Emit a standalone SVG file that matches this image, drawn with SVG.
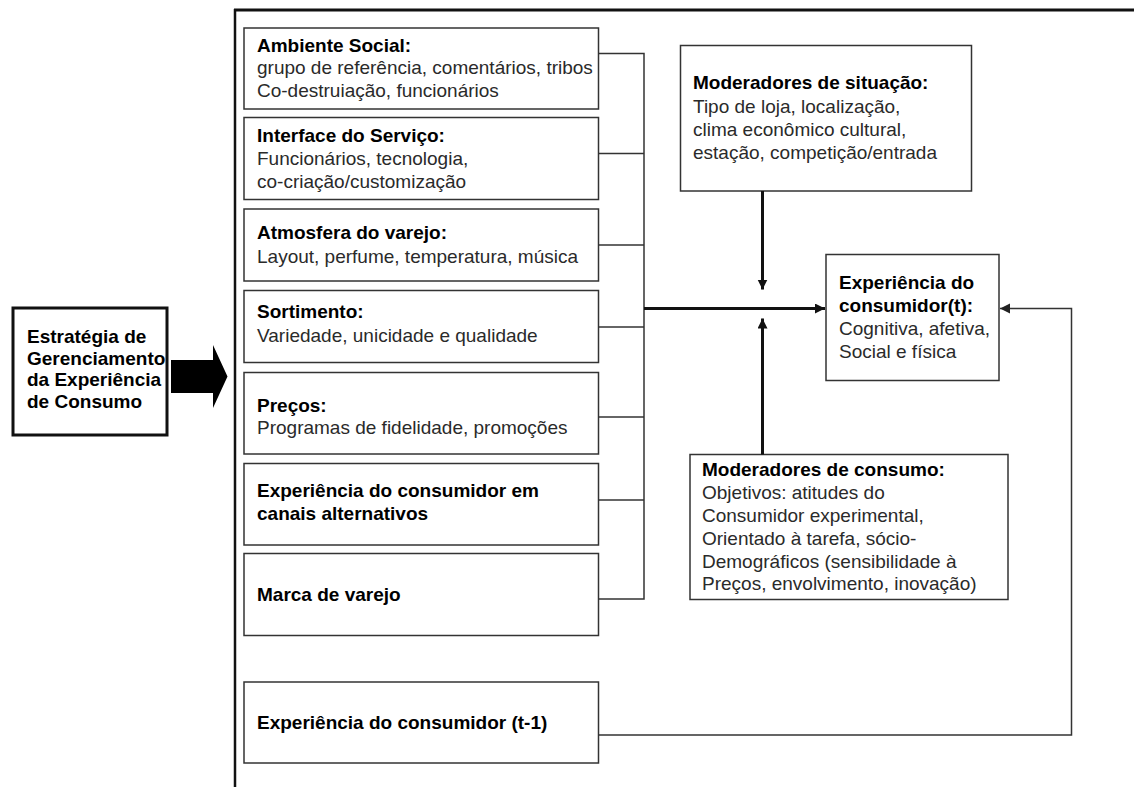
<svg xmlns="http://www.w3.org/2000/svg" width="1134" height="787" viewBox="0 0 1134 787">
<defs>
<style>
.box{fill:#fff;stroke:#333;stroke-width:1.5}
.t{font-family:"Liberation Sans",Arial,sans-serif;font-size:19px;font-weight:bold;fill:#000}
.b{font-family:"Liberation Sans",Arial,sans-serif;font-size:19px;fill:#2a2a2a}
.thin{fill:none;stroke:#333;stroke-width:1.5}
.thick{fill:none;stroke:#111;stroke-width:3}
</style>
<marker id="ah" markerUnits="userSpaceOnUse" markerWidth="12" markerHeight="12" refX="10" refY="5" orient="auto">
<path d="M0,0 L10,5 L0,10 Z" fill="#111"/>
</marker>
<marker id="ahs" markerUnits="userSpaceOnUse" markerWidth="12" markerHeight="12" refX="10" refY="5" orient="auto">
<path d="M0,0 L10,5 L0,10 Z" fill="#222"/>
</marker>
</defs>
<rect width="1134" height="787" fill="#fff"/>

<g id="frame">
<line x1="234" y1="10" x2="1134" y2="10" stroke="#111" stroke-width="3"/>
<line x1="235" y1="9" x2="235" y2="787" stroke="#111" stroke-width="2.5"/>
</g>

<g id="estrategia">
<rect x="13" y="308" width="154" height="127" fill="#fff" stroke="#111" stroke-width="3"/>
<text class="t" x="27" y="343">Estratégia de</text>
<text class="t" x="27" y="364.5">Gerenciamento</text>
<text class="t" x="27" y="386">da Experiência</text>
<text class="t" x="27" y="408">de Consumo</text>
</g>

<g id="block-arrow">
<polygon points="171,360 213,360 213,345 227.5,376.5 213,408 213,393 171,393" fill="#000"/>
</g>

<g id="ambiente">
<rect class="box" x="244" y="28" width="354.5" height="81"/>
<text class="t" x="257" y="51.5">Ambiente Social:</text>
<text class="b" x="257" y="74">grupo de referência, comentários, tribos</text>
<text class="b" x="257" y="96.5">Co-destruiação, funcionários</text>
</g>

<g id="interface">
<rect class="box" x="244" y="117.5" width="354.5" height="82"/>
<text class="t" x="257" y="141.5">Interface do Serviço:</text>
<text class="b" x="257" y="164.5">Funcionários, tecnologia,</text>
<text class="b" x="257" y="187.5">co-criação/customização</text>
</g>

<g id="atmosfera">
<rect class="box" x="244" y="209" width="354.5" height="72"/>
<text class="t" x="257" y="239">Atmosfera do varejo:</text>
<text class="b" x="257" y="263">Layout, perfume, temperatura, música</text>
</g>

<g id="sortimento">
<rect class="box" x="244" y="290.5" width="354.5" height="72"/>
<text class="t" x="257" y="318">Sortimento:</text>
<text class="b" x="257" y="341.5">Variedade, unicidade e qualidade</text>
</g>

<g id="precos">
<rect class="box" x="244" y="372.5" width="354.5" height="81.5"/>
<text class="t" x="257" y="411.5">Preços:</text>
<text class="b" x="257" y="433.5">Programas de fidelidade, promoções</text>
</g>

<g id="canais">
<rect class="box" x="244" y="463.5" width="354.5" height="81.5"/>
<text class="t" x="257" y="496.5">Experiência do consumidor em</text>
<text class="t" x="257" y="519.5">canais alternativos</text>
</g>

<g id="marca">
<rect class="box" x="244" y="553.5" width="354.5" height="82"/>
<text class="t" x="257" y="600.5">Marca de varejo</text>
</g>

<g id="anterior">
<rect class="box" x="244" y="682" width="354.5" height="81"/>
<text class="t" x="257" y="729">Experiência do consumidor (t-1)</text>
</g>

<g id="situacao">
<rect class="box" x="680.5" y="45.5" width="291" height="145.5"/>
<text class="t" x="693" y="89">Moderadores de situação:</text>
<text class="b" x="693" y="112.5">Tipo de loja, localização,</text>
<text class="b" x="693" y="135.5">clima econômico cultural,</text>
<text class="b" x="693" y="158.5">estação, competição/entrada</text>
</g>

<g id="experiencia-t">
<rect class="box" x="826" y="254.5" width="173" height="126"/>
<text class="t" x="839" y="289">Experiência do</text>
<text class="t" x="839" y="311.5">consumidor(t):</text>
<text class="b" x="839" y="335">Cognitiva, afetiva,</text>
<text class="b" x="839" y="358">Social e física</text>
</g>

<g id="consumo">
<rect class="box" x="690" y="454.5" width="318" height="145"/>
<text class="t" x="702" y="476">Moderadores de consumo:</text>
<text class="b" x="702" y="499">Objetivos: atitudes do</text>
<text class="b" x="702" y="522">Consumidor experimental,</text>
<text class="b" x="702" y="544.5">Orientado à tarefa, sócio-</text>
<text class="b" x="702" y="567.5">Demográficos (sensibilidade à</text>
<text class="b" x="702" y="590">Preços, envolvimento, inovação)</text>
</g>

<g id="connectors">
<path class="thin" d="M598.5,53.5 H644 V599 H598.5"/>
<line class="thin" x1="598.5" y1="153.5" x2="644" y2="153.5"/>
<line class="thin" x1="598.5" y1="245" x2="644" y2="245"/>
<line class="thin" x1="598.5" y1="327" x2="644" y2="327"/>
<line class="thin" x1="598.5" y1="417" x2="644" y2="417"/>
<line class="thin" x1="598.5" y1="500" x2="644" y2="500"/>
<line class="thick" x1="644" y1="308.5" x2="825" y2="308.5" marker-end="url(#ah)"/>
<line class="thick" x1="762.5" y1="191" x2="762.5" y2="289.5" marker-end="url(#ah)"/>
<line class="thick" x1="762.5" y1="454.5" x2="762.5" y2="318.5" marker-end="url(#ah)"/>
<path class="thin" d="M598.5,735 H1071.5 V308.5 H1000" marker-end="url(#ahs)"/>
</g>
</svg>
